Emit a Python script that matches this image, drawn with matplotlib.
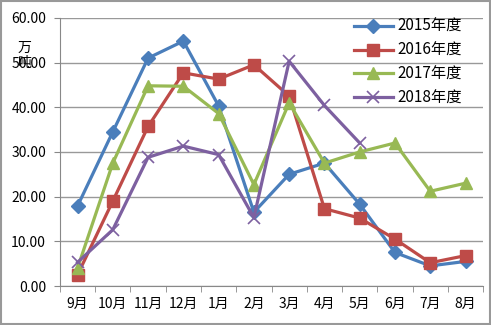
import matplotlib
matplotlib.use("Agg")
import numpy as np
from matplotlib import pyplot as plt

plt.rcParams['font.family'] = ['Noto Sans CJK SC', 'DejaVu Sans']

months = ["9月", "10月", "11月", "12月", "1月", "2月", "3月", "4月", "5月", "6月", "7月", "8月"]
y2015 = [17.9, 34.5, 51.0, 54.8, 40.3, 16.5, 25.0, 27.5, 18.3, 7.5, 4.5, 5.5]
y2016 = [2.5, 19.0, 35.7, 47.7, 46.3, 49.5, 42.5, 17.3, 15.2, 10.5, 5.2, 6.8]
y2017 = [4.0, 27.5, 44.8, 44.7, 38.6, 22.7, 41.0, 27.5, 30.0, 32.0, 21.2, 23.0]
y2018 = [5.3, 12.6, 28.8, 31.3, 29.4, 15.3, 50.3, 40.4, 32.0]

fig = plt.figure(figsize=(4.91, 3.25), dpi=100)
ax = fig.add_axes([0.122, 0.12, 0.862, 0.825])

x = np.arange(len(months))
ax.plot(x, y2015, color="#4A7EBB", lw=2.3, marker="D", ms=7, label="2015年度")
ax.plot(x, y2016, color="#BE4B48", lw=2.3, marker="s", ms=8.5, label="2016年度")
ax.plot(x, y2017, color="#98B954", lw=2.3, marker="^", ms=9, label="2017年度")
ax.plot(np.arange(len(y2018)), y2018, color="#7D60A0", lw=2.3, marker="x", ms=9, mew=1.2, label="2018年度")

ax.set_xlim(-0.5, len(months) - 0.5)
ax.set_ylim(0, 60)
ax.set_yticks(np.arange(0, 61, 10))
ax.set_yticklabels(["%.2f" % v for v in np.arange(0, 61, 10)], fontsize=10)
ax.set_xticks(x)
ax.set_xticklabels(months, fontsize=10)
ax.set_xticks(np.arange(-0.5, len(months), 1), minor=True)
ax.tick_params(axis="x", which="major", length=0, pad=8)
ax.tick_params(axis="x", which="minor", length=4, color="#888888")
ax.tick_params(axis="y", length=4, color="#888888", pad=6)
ax.grid(axis="y", color="#999999", lw=1)
ax.set_axisbelow(True)
for s in ["top", "right"]:
    ax.spines[s].set_visible(False)
for s in ["left", "bottom"]:
    ax.spines[s].set_color("#888888")

fig.text(0.05, 0.83, "万\n吨", fontsize=10, ha="center", va="center", linespacing=1.1)

ax.legend(loc="upper left", bbox_to_anchor=(0.665, 1.045), frameon=False, fontsize=11,
          handlelength=2.6, labelspacing=0.45, handletextpad=0.25, borderpad=0.3)

fig.patches.append(plt.Rectangle((0.002, 0.003), 0.995, 0.993, transform=fig.transFigure,
                                 fill=False, edgecolor="#999999", lw=1.5))
fig.savefig("out.png", dpi=100)
